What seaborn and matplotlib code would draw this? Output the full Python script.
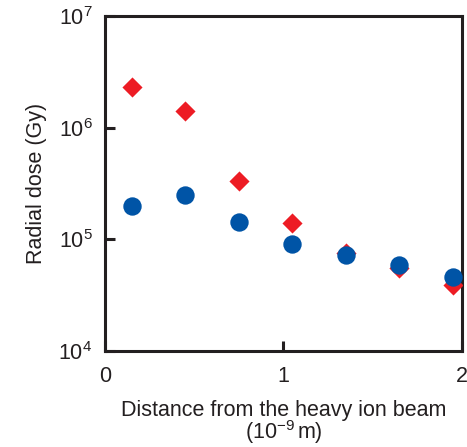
import numpy as np
import pandas as pd
import seaborn as sns
import matplotlib.pyplot as plt

# distance from the beam (1e-9 m)
distance = [0.15, 0.45, 0.75, 1.05, 1.35, 1.65, 1.95]
# radial dose (Gy), red diamonds and blue circles
dose_red = [2.3e6, 1.4e6, 3.3e5, 1.39e5, 7.5e4, 5.5e4, 3.9e4]
dose_blue = [2.0e5, 2.48e5, 1.42e5, 9.1e4, 7.2e4, 5.9e4, 4.6e4]

red = pd.DataFrame({'distance': distance, 'dose': dose_red})
blue = pd.DataFrame({'distance': distance, 'dose': dose_blue})

sns.set_style('ticks')
plt.rcParams['font.family'] = ['Liberation Sans', 'DejaVu Sans']
plt.rcParams['mathtext.fontset'] = 'custom'
plt.rcParams['mathtext.rm'] = 'Liberation Sans'
plt.rcParams['mathtext.it'] = 'Liberation Sans:italic'

fig = plt.figure(figsize=(4.67, 4.47), dpi=100)
ax = fig.add_axes([0.2248, 0.2148, 0.989 - 0.2248, 0.964 - 0.2148])

sns.scatterplot(data=red, x='distance', y='dose', ax=ax, marker='D',
                color='#ED1C24', s=105, linewidth=0, zorder=3)
sns.scatterplot(data=blue, x='distance', y='dose', ax=ax, marker='o',
                color='#0054A6', s=175, linewidth=0, zorder=4)

ax.set_yscale('log')
ax.set_ylim(1e4, 1e7)
ax.set_xlim(0, 2)
ax.set_xticks([0, 1, 2])
ax.set_xticklabels(['0', '1', '2'])
ax.set_yticks([1e4, 1e5, 1e6, 1e7])
ax.minorticks_off()

for s in ax.spines.values():
    s.set_linewidth(2.2)
    s.set_color('#231F20')
ax.tick_params(direction='in', length=7, width=2.2, colors='#231F20',
               labelsize=15.5, labelcolor='#231F20')
ax.tick_params(axis='x', pad=11)
ax.tick_params(axis='y', pad=9)

ax.set_xlabel('Distance from the heavy ion beam\n($10^{-9}\\,$m)',
              fontsize=15.5, color='#231F20', labelpad=9, linespacing=0.85)
ax.set_ylabel('Radial dose (Gy)', fontsize=15.5, color='#231F20', labelpad=8)

fig.savefig('out.png', dpi=100)
